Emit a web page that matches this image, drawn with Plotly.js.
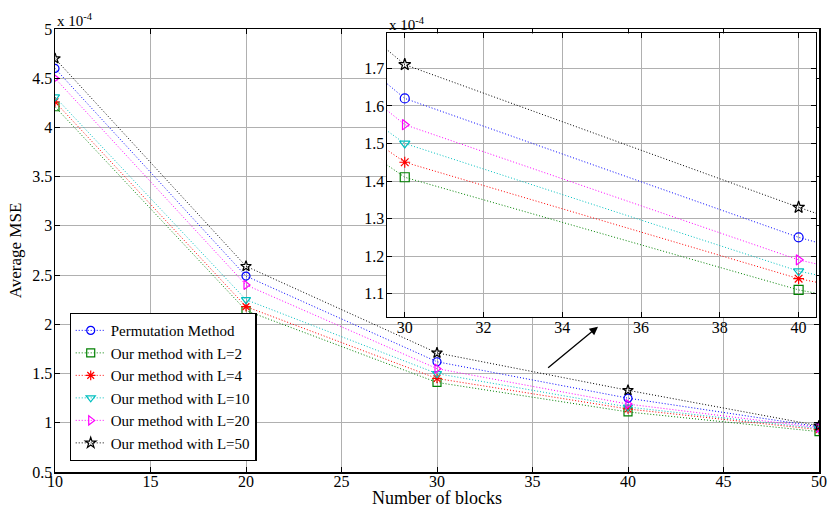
<!DOCTYPE html>
<html>
<head>
<meta charset="utf-8">
<script src="https://cdn.plot.ly/plotly-3.0.1.min.js"></script>
<style>html,body{margin:0;padding:0;background:#fff;}#chart{width:828px;height:508px;}</style>
</head>
<body>
<div id="chart"></div>
<script>
// Values are in units of 1e-4 (the axes show "x 10^-4")
const blocks = [10, 20, 30, 40, 50];
const permutation = [4.60, 2.49, 1.62, 1.25, 0.96];
const ourL2  = [4.21, 2.14, 1.41, 1.11, 0.91];
const ourL4  = [4.26, 2.18, 1.45, 1.14, 0.93];
const ourL10 = [4.31, 2.25, 1.50, 1.16, 0.94];
const ourL20 = [4.50, 2.40, 1.55, 1.19, 0.95];
const ourL50 = [4.70, 2.59, 1.71, 1.33, 0.97];
const seriesNames = ["Permutation Method", "Our method with L=2", "Our method with L=4",
  "Our method with L=10", "Our method with L=20", "Our method with L=50"];
const mainXTicks = [10, 15, 20, 25, 30, 35, 40, 45, 50];
const mainYTicks = [0.5, 1, 1.5, 2, 2.5, 3, 3.5, 4, 4.5, 5];
const insetXTicks = [30, 32, 34, 36, 38, 40];
const insetYTicks = [1.1, 1.2, 1.3, 1.4, 1.5, 1.6, 1.7];
const xTitle = "Number of blocks";
const yTitle = "Average MSE";

const seriesValues = [permutation, ourL2, ourL4, ourL10, ourL20, ourL50];
const colors = ["#0000ff", "#008000", "#ff0000", "#00bfbf", "#ff00ff", "#000000"];
const symbols = ["circle-open", "square-open", "asterisk-open", "triangle-down-open", "triangle-right-open", "star-open"];

const FONT = "Liberation Serif";
const traces = [];
seriesValues.forEach((vals, i) => {
  traces.push({
    x: blocks, y: vals, name: seriesNames[i], type: "scatter", mode: "lines+markers",
    xaxis: "x", yaxis: "y",
    line: {color: colors[i], width: 1, dash: "1px,2px"},
    marker: {symbol: symbols[i], size: 8, color: colors[i], line: {color: colors[i], width: 1.2}}
  });
});
seriesValues.forEach((vals, i) => {
  traces.push({
    x: blocks, y: vals, name: seriesNames[i], type: "scatter", mode: "lines+markers",
    xaxis: "x2", yaxis: "y2", showlegend: false,
    line: {color: colors[i], width: 1, dash: "1px,2px"},
    marker: {symbol: symbols[i], size: 9, color: colors[i], line: {color: colors[i], width: 1.2}}
  });
});

const axCommon = {
  showline: true, linecolor: "#000", linewidth: 1.5, mirror: "ticks",
  ticks: "inside", ticklen: 5, tickwidth: 1, tickcolor: "#000",
  showgrid: true, gridcolor: "#b0b0b0", gridwidth: 1, zeroline: false,
  tickfont: {family: FONT, size: 16, color: "#000"}
};

const layout = {
  width: 828, height: 508,
  margin: {l: 55, r: 9, t: 29, b: 36},
  paper_bgcolor: "#fff", plot_bgcolor: "#fff",
  font: {family: FONT, color: "#000"},
  showlegend: true,
  legend: {
    x: 0.019, y: 0.025, xanchor: "left", yanchor: "bottom",
    bgcolor: "#fff", bordercolor: "#000", borderwidth: 1.2,
    font: {family: FONT, size: 15, color: "#000"},
    tracegroupgap: 0, itemwidth: 30
  },
  xaxis: Object.assign({}, axCommon, {
    domain: [0, 1], range: [10, 50], tickvals: mainXTicks, anchor: "y", ticklabelstandoff: -6
  }),
  yaxis: Object.assign({}, axCommon, {
    domain: [0, 1], range: [0.5, 5], tickvals: mainYTicks, anchor: "x", ticklabelstandoff: -2,
    title: {text: yTitle, font: {family: FONT, size: 17, color: "#000"}, standoff: 6}
  }),
  xaxis2: Object.assign({}, axCommon, {
    domain: [0.4346, 0.996], range: [29.55, 40.44], tickvals: insetXTicks, anchor: "y2", ticklabelstandoff: -5
  }),
  yaxis2: Object.assign({}, axCommon, {
    domain: [0.350, 0.990], range: [1.038, 1.793], tickvals: insetYTicks, anchor: "x2", ticklabelstandoff: -2
  }),
  annotations: [
    {xref: "paper", yref: "paper", x: 0.5, y: 0, xanchor: "center", yanchor: "bottom", yshift: -37,
     borderpad: 0, text: xTitle, showarrow: false, font: {family: FONT, size: 18, color: "#000"}},
    {xref: "paper", yref: "paper", x: 0, y: 1, xanchor: "left", yanchor: "bottom", yshift: -2,
     text: "x 10<sup>-4</sup>", showarrow: false, font: {family: FONT, size: 15, color: "#000"}},
    {xref: "x2 domain", yref: "y2 domain", x: 0, y: 1, xanchor: "left", yanchor: "bottom", yshift: -2,
     text: "x 10<sup>-4</sup>", showarrow: false, font: {family: FONT, size: 15, color: "#000"}},
    {xref: "x", yref: "y", x: 38.43, y: 1.976, axref: "x", ayref: "y", ax: 35.74, ay: 1.546,
     text: "", showarrow: true, arrowhead: 2, arrowsize: 1.3, arrowwidth: 1.3, arrowcolor: "#000"}
  ]
};

Plotly.newPlot("chart", traces, layout, {displayModeBar: false, staticPlot: true});
</script>
</body>
</html>
